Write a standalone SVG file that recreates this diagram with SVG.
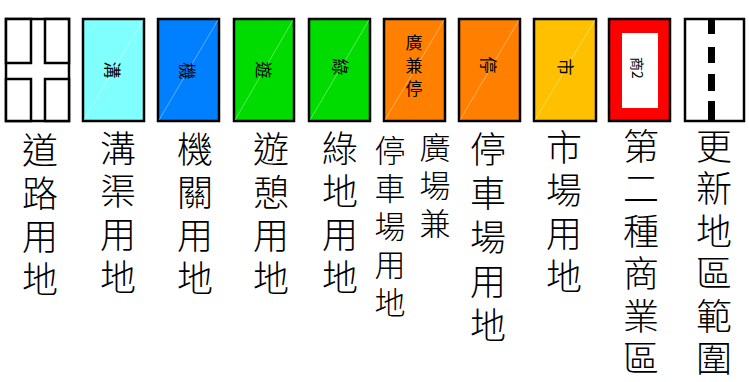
<svg xmlns="http://www.w3.org/2000/svg" width="749" height="382" viewBox="0 0 749 382">
<style>
.box{stroke:#000;stroke-width:2.5}
.seam{stroke:#fff;stroke-opacity:0.45;stroke-width:0.8}
.lbl{font-family:"Noto Sans CJK TC","Noto Sans CJK SC",sans-serif;font-size:36px;font-weight:300;fill:#000;text-anchor:middle}
.lbl2{font-family:"Noto Sans CJK TC","Noto Sans CJK SC",sans-serif;font-size:31px;font-weight:300;fill:#000;text-anchor:middle}
.sm{font-family:"Noto Sans CJK TC","Noto Sans CJK SC",sans-serif;font-size:17px;fill:#000;text-anchor:middle;dominant-baseline:central}
</style>
<rect width="749" height="382" fill="#fff"/>
<g id="n1">
<rect class="box" x="685" y="19" width="59" height="102" fill="#fff"/>
<rect x="708" y="19" width="7" height="15" fill="#000"/>
<rect x="708" y="47" width="7" height="16" fill="#000"/>
<rect x="708" y="74" width="7" height="17" fill="#000"/>
<rect x="708" y="101" width="7" height="20" fill="#000"/>
<text class="lbl"><tspan x="714" y="160">更</tspan><tspan x="714" y="202.4">新</tspan><tspan x="714" y="244.8">地</tspan><tspan x="714" y="287.2">區</tspan><tspan x="714" y="329.6">範</tspan><tspan x="714" y="372">圍</tspan></text>
</g>
<g id="n2">
<rect class="box" x="609" y="19" width="61" height="102" fill="#f00"/>
<rect x="622" y="33" width="36" height="75" fill="#fff"/>
<text class="sm" style="font-size:14px" transform="translate(638,68) rotate(90)">商2</text>
<text class="lbl"><tspan x="641" y="160">第</tspan><tspan x="641" y="202.4">二</tspan><tspan x="641" y="244.8">種</tspan><tspan x="641" y="287.2">商</tspan><tspan x="641" y="329.6">業</tspan><tspan x="641" y="372">區</tspan></text>
</g>
<g id="n3">
<rect class="box" x="534" y="19" width="62" height="102" fill="#ffc000"/>
<line class="seam" x1="535" y1="120" x2="595" y2="20"/>
<text class="sm" transform="translate(566,67) rotate(90)">市</text>
<text class="lbl"><tspan x="564" y="161">市</tspan><tspan x="564" y="204">場</tspan><tspan x="564" y="247">用</tspan><tspan x="564" y="290">地</tspan></text>
</g>
<g id="n4">
<rect class="box" x="459" y="19" width="61" height="102" fill="#ff8000"/>
<line class="seam" x1="460" y1="120" x2="519" y2="20"/>
<text class="sm" transform="translate(489,65) rotate(90)">停</text>
<text class="lbl"><tspan x="488" y="163">停</tspan><tspan x="488" y="207">車</tspan><tspan x="488" y="251">場</tspan><tspan x="488" y="295">用</tspan><tspan x="488" y="339">地</tspan></text>
</g>
<g id="n5">
<rect class="box" x="384" y="19" width="61" height="102" fill="#ff8000"/>
<line class="seam" x1="385" y1="120" x2="444" y2="20"/>
<text class="sm"><tspan x="414" y="41">廣</tspan><tspan x="414" y="64">兼</tspan><tspan x="414" y="87">停</tspan></text>
<text class="lbl2"><tspan x="435" y="159">廣</tspan><tspan x="435" y="197">場</tspan><tspan x="435" y="235">兼</tspan></text>
<text class="lbl2"><tspan x="390" y="162">停</tspan><tspan x="390" y="200">車</tspan><tspan x="390" y="238">場</tspan><tspan x="390" y="276">用</tspan><tspan x="390" y="314">地</tspan></text>
</g>
<g id="n6">
<rect class="box" x="309" y="19" width="61" height="102" fill="#00dc00"/>
<line class="seam" x1="310" y1="120" x2="369" y2="20"/>
<text class="sm" transform="translate(341,67) rotate(90)">綠</text>
<text class="lbl"><tspan x="340" y="162">綠</tspan><tspan x="340" y="205">地</tspan><tspan x="340" y="248">用</tspan><tspan x="340" y="291">地</tspan></text>
</g>
<g id="n7">
<rect class="box" x="234" y="19" width="60" height="102" fill="#00dc00"/>
<line class="seam" x1="235" y1="120" x2="293" y2="20"/>
<text class="sm" transform="translate(264,70) rotate(90)">遊</text>
<text class="lbl"><tspan x="271" y="163">遊</tspan><tspan x="271" y="206">憩</tspan><tspan x="271" y="249">用</tspan><tspan x="271" y="292">地</tspan></text>
</g>
<g id="n8">
<rect class="box" x="158" y="19" width="61" height="102" fill="#0080ff"/>
<line class="seam" x1="159" y1="120" x2="218" y2="20"/>
<text class="sm" transform="translate(188,71) rotate(90)">機</text>
<text class="lbl"><tspan x="195" y="163">機</tspan><tspan x="195" y="206">關</tspan><tspan x="195" y="249">用</tspan><tspan x="195" y="292">地</tspan></text>
</g>
<g id="n9">
<rect class="box" x="83" y="19" width="61" height="102" fill="#80ffff"/>
<line class="seam" x1="84" y1="120" x2="143" y2="20"/>
<text class="sm" transform="translate(113,70) rotate(90)">溝</text>
<text class="lbl"><tspan x="118" y="162">溝</tspan><tspan x="118" y="205">渠</tspan><tspan x="118" y="248">用</tspan><tspan x="118" y="291">地</tspan></text>
</g>
<g id="n10">
<rect class="box" x="6" y="19" width="63" height="102" fill="#fff"/>
<rect class="box" x="6" y="19" width="25" height="44" fill="#fff"/>
<rect class="box" x="45" y="19" width="24" height="44" fill="#fff"/>
<rect class="box" x="6" y="79" width="25" height="42" fill="#fff"/>
<rect class="box" x="45" y="79" width="24" height="42" fill="#fff"/>
<text class="lbl"><tspan x="40" y="164">道</tspan><tspan x="40" y="207">路</tspan><tspan x="40" y="250">用</tspan><tspan x="40" y="293">地</tspan></text>
</g>
<g id="connectors"></g>
</svg>
